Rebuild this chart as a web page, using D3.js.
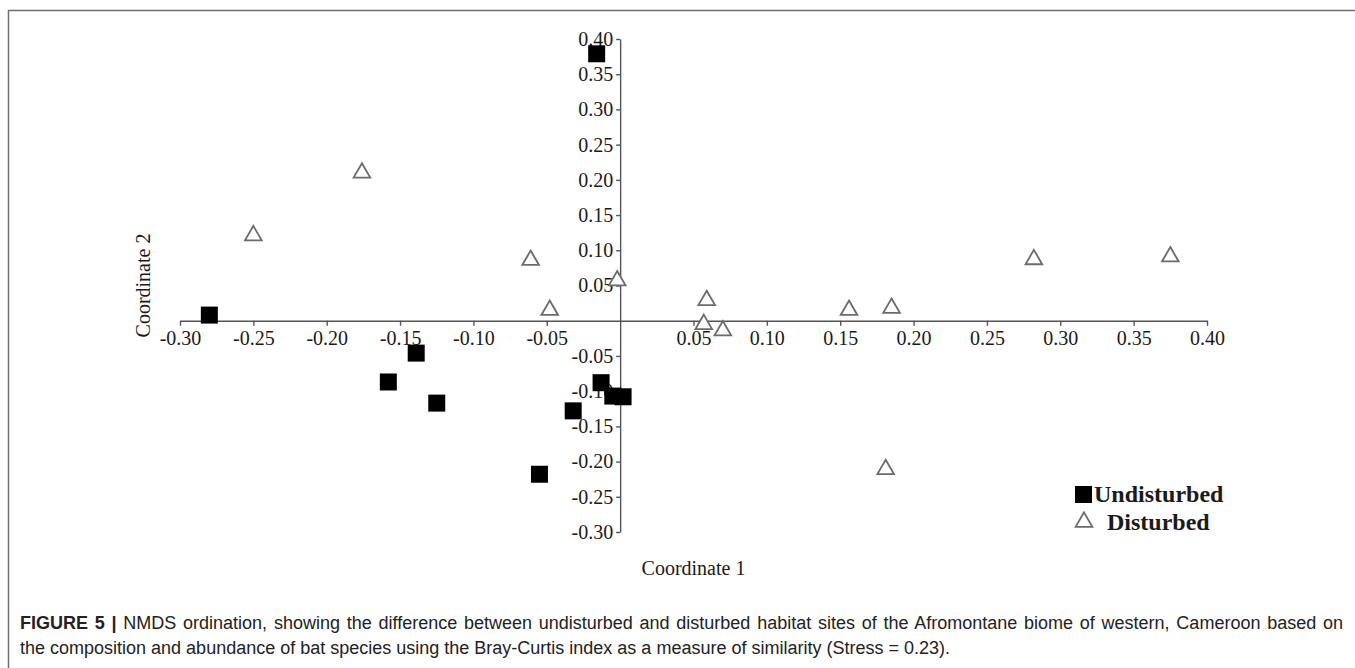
<!DOCTYPE html>
<html>
<head>
<meta charset="utf-8">
<script src="https://cdnjs.cloudflare.com/ajax/libs/d3/7.8.5/d3.min.js"></script>
<style>
  body { margin: 0; background: #fff; }
  svg { display: block; }
</style>
</head>
<body>
<svg></svg>
<script>
// NMDS coordinates
let undisturbedX = [-0.016, -0.280, -0.139, -0.158, -0.125, -0.055, -0.032, -0.013, -0.005, 0.002];
let undisturbedY = [0.379, 0.008, -0.046, -0.087, -0.117, -0.218, -0.128, -0.088, -0.107, -0.108];
let disturbedX = [-0.250, -0.176, -0.061, -0.048, -0.002, 0.059, 0.057, 0.070, 0.156, 0.185, 0.282, 0.375, 0.181];
let disturbedY = [0.121, 0.210, 0.086, 0.015, 0.057, 0.029, -0.005, -0.014, 0.015, 0.018, 0.087, 0.091, -0.211];

let xTicks = [-0.30, -0.25, -0.20, -0.15, -0.10, -0.05, 0.05, 0.10, 0.15, 0.20, 0.25, 0.30, 0.35, 0.40];
let yTicks = [-0.30, -0.25, -0.20, -0.15, -0.10, -0.05, 0.05, 0.10, 0.15, 0.20, 0.25, 0.30, 0.35, 0.40];

let seriesNames = ["Undisturbed", "Disturbed"];
let axisTitles = ["Coordinate 1", "Coordinate 2"];
let captionLabel = "FIGURE 5 |";
let captionLine1 = " NMDS ordination, showing the difference between undisturbed and disturbed habitat sites of the Afromontane biome of western, Cameroon based on";
let captionLine2 = "the composition and abundance of bat species using the Bray-Curtis index as a measure of similarity (Stress = 0.23).";

let width = 1355;
let height = 668;
let serif = "'Liberation Serif', 'Times New Roman', serif";
let sans = "'Liberation Sans', Arial, sans-serif";
let markColor = "#6b6b6b";

let svg = d3.select("svg");
let xScale, yScale;

function drawCanvas() {
  svg.attr("width", width).attr("height", height);
  // figure frame (top and left edges visible)
  svg.append("path")
    .attr("d", "M8.5,668 L8.5,10.5 L1355,10.5")
    .attr("fill", "none")
    .attr("stroke", "#707070")
    .attr("stroke-width", 1.5);
}

function generateScales() {
  xScale = d3.scaleLinear().domain([-0.30, 0.40]).range([180, 1207]);
  yScale = d3.scaleLinear().domain([-0.30, 0.40]).range([532, 39]);
}

function styleAxis(g) {
  g.selectAll("path, line").attr("stroke", "#555").attr("stroke-width", 1.4);
  g.selectAll("text")
    .attr("fill", "#1a1a1a")
    .style("font-family", serif)
    .style("font-size", "20px");
}

function generateAxis() {
  // plain hyphen for negatives, as in the original
  let fmt = (d) => d.toFixed(2);

  let xAxis = d3.axisBottom(xScale)
    .tickValues(xTicks)
    .tickFormat(fmt)
    .tickSize(5)
    .tickSizeOuter(0)
    .tickPadding(5);

  svg.append("g")
    .attr("id", "x-axis")
    .attr("transform", "translate(0," + yScale(0) + ")")
    .call(xAxis)
    .call(styleAxis);

  let yAxis = d3.axisLeft(yScale)
    .tickValues(yTicks)
    .tickFormat(fmt)
    .tickSize(4)
    .tickSizeOuter(0)
    .tickPadding(3);

  svg.append("g")
    .attr("id", "y-axis")
    .attr("transform", "translate(" + xScale(0) + ",0)")
    .call(yAxis)
    .call(styleAxis);

  svg.append("text")
    .attr("x", (xScale.range()[0] + xScale.range()[1]) / 2)
    .attr("y", 575)
    .attr("text-anchor", "middle")
    .style("font-family", serif)
    .style("font-size", "20px")
    .attr("fill", "#1a1a1a")
    .text(axisTitles[0]);

  svg.append("text")
    .attr("transform", "translate(150," + (yScale.range()[0] + yScale.range()[1]) / 2 + ") rotate(-90)")
    .attr("text-anchor", "middle")
    .style("font-family", serif)
    .style("font-size", "20px")
    .attr("fill", "#1a1a1a")
    .text(axisTitles[1]);
}

function drawPoints() {
  let square = d3.symbol().type(d3.symbolSquare).size(289);
  let triangle = d3.symbol().type(d3.symbolTriangle).size(120);

  svg.append("g")
    .selectAll("path")
    .data(disturbedX.map((d, i) => [d, disturbedY[i]]))
    .enter()
    .append("path")
    .attr("d", triangle)
    .attr("transform", (d) => "translate(" + xScale(d[0]) + "," + yScale(d[1]) + ")")
    .attr("fill", "#fff")
    .attr("stroke", markColor)
    .attr("stroke-width", 1.8);

  svg.append("g")
    .selectAll("path")
    .data(undisturbedX.map((d, i) => [d, undisturbedY[i]]))
    .enter()
    .append("path")
    .attr("d", square)
    .attr("transform", (d) => "translate(" + xScale(d[0]) + "," + yScale(d[1]) + ")")
    .attr("fill", "#000");
}

function drawLegend() {
  let legend = svg.append("g").attr("transform", "translate(1075,494)");

  legend.append("rect")
    .attr("x", 0).attr("y", -8)
    .attr("width", 17).attr("height", 17)
    .attr("fill", "#000");
  legend.append("text")
    .attr("x", 19).attr("y", 0).attr("dy", "0.35em")
    .style("font-family", serif).style("font-size", "24px").style("font-weight", "bold")
    .attr("fill", "#1a1a1a")
    .text(seriesNames[0]);

  legend.append("path")
    .attr("d", d3.symbol().type(d3.symbolTriangle).size(120))
    .attr("transform", "translate(9,28)")
    .attr("fill", "#fff")
    .attr("stroke", markColor)
    .attr("stroke-width", 1.8);
  legend.append("text")
    .attr("x", 32).attr("y", 28).attr("dy", "0.35em")
    .style("font-family", serif).style("font-size", "24px").style("font-weight", "bold")
    .attr("fill", "#1a1a1a")
    .text(seriesNames[1]);
}

function drawCaption() {
  let line1 = svg.append("text")
    .attr("x", 20).attr("y", 629)
    .style("font-family", sans).style("font-size", "18px")
    .attr("fill", "#222");
  line1.append("tspan").style("font-weight", "bold").text(captionLabel);
  line1.append("tspan").text(captionLine1);

  // justify the first line to the full text width
  let natural = line1.node().getComputedTextLength();
  let spaces = (captionLabel + captionLine1).split(" ").length - 1;
  let extra = (1343 - 20 - natural) / spaces;
  line1.style("word-spacing", extra + "px");

  svg.append("text")
    .attr("x", 20).attr("y", 654)
    .style("font-family", sans).style("font-size", "18px")
    .attr("fill", "#222")
    .text(captionLine2);
}

drawCanvas();
generateScales();
generateAxis();
drawPoints();
drawLegend();
drawCaption();
</script>
</body>
</html>
